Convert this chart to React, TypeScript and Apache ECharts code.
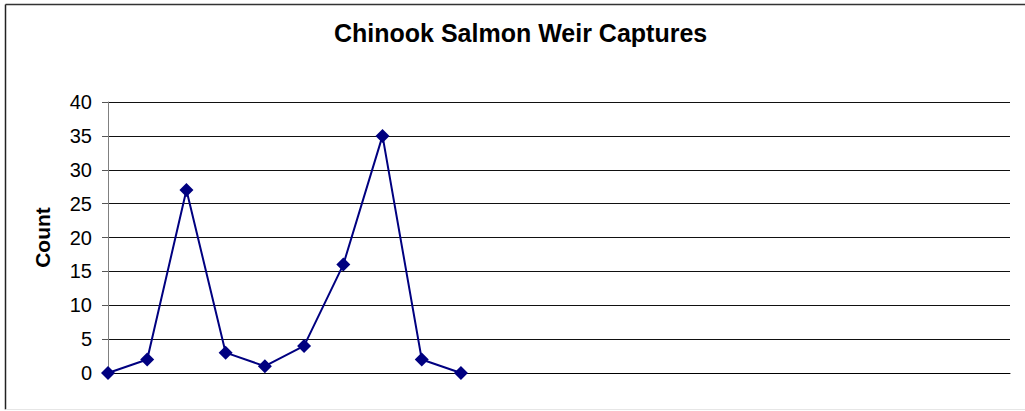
import React, { useEffect, useRef } from "react";
import * as echarts from "echarts";

const title = "Chinook Salmon Weir Captures";
const yAxisName = "Count";
const categories = [
  "1", "2", "3", "4", "5", "6", "7", "8", "9", "10", "11", "12",
  "13", "14", "15", "16", "17", "18", "19", "20", "21", "22", "23", "24",
];
const counts = [0, 2, 27, 3, 1, 4, 16, 35, 2, 0];
const yMin = 0;
const yMax = 40;
const yInterval = 5;

export default function App() {
  const ref = useRef<HTMLDivElement>(null);
  useEffect(() => {
    if (!ref.current) return;
    const chart = echarts.init(ref.current, null, { renderer: "svg" });
    chart.setOption({
      animation: false,
      backgroundColor: "#ffffff",
      textStyle: { fontFamily: "Liberation Sans, Arial, sans-serif" },
      title: {
        text: title,
        left: 329,
        top: 15,
        textStyle: {
          fontSize: 25,
          fontWeight: "bold",
          color: "#000",
          fontFamily: "Liberation Sans, Arial, sans-serif",
        },
      },
      graphic: [
        {
          type: "line",
          shape: { x1: 5.5, y1: 4.5, x2: 1030, y2: 4.5 },
          style: { stroke: "#333", lineWidth: 1.5 },
          z: 100,
        },
        {
          type: "line",
          shape: { x1: 5.5, y1: 4.5, x2: 5.5, y2: 409.5 },
          style: { stroke: "#222", lineWidth: 1.5 },
          z: 100,
        },
        {
          type: "line",
          shape: { x1: 5.5, y1: 409.5, x2: 1030, y2: 409.5 },
          style: { stroke: "#e6e6e6", lineWidth: 1 },
          z: 100,
        },
      ],
      grid: { left: 108, right: 15, top: 102, bottom: 38, containLabel: false },
      xAxis: {
        type: "category",
        data: categories,
        boundaryGap: false,
        axisLine: { show: true, lineStyle: { color: "#000", width: 1 } },
        axisTick: { show: false },
        axisLabel: { show: false },
        splitLine: { show: false },
      },
      yAxis: {
        type: "value",
        min: yMin,
        max: yMax,
        interval: yInterval,
        name: yAxisName,
        nameLocation: "middle",
        nameGap: 55,
        nameRotate: 90,
        nameTextStyle: {
          fontSize: 21,
          fontWeight: "bold",
          color: "#000",
          fontFamily: "Liberation Sans, Arial, sans-serif",
        },
        axisLine: { show: true, lineStyle: { color: "#808080", width: 1 } },
        axisTick: { show: true, length: 6, lineStyle: { color: "#555" } },
        axisLabel: {
          fontSize: 20,
          color: "#000",
          margin: 16,
          fontFamily: "Liberation Sans, Arial, sans-serif",
        },
        splitLine: { show: true, lineStyle: { color: "#111", width: 1 } },
      },
      series: [
        {
          type: "line",
          data: counts,
          symbol: "diamond",
          symbolSize: 14,
          lineStyle: { color: "#000080", width: 2 },
          itemStyle: { color: "#000080" },
          connectNulls: false,
        },
      ],
    });
    return () => chart.dispose();
  }, []);
  return (
    <div
      ref={ref}
      style={{ position: "fixed", left: 0, top: 0, width: 1025, height: 411 }}
    />
  );
}
